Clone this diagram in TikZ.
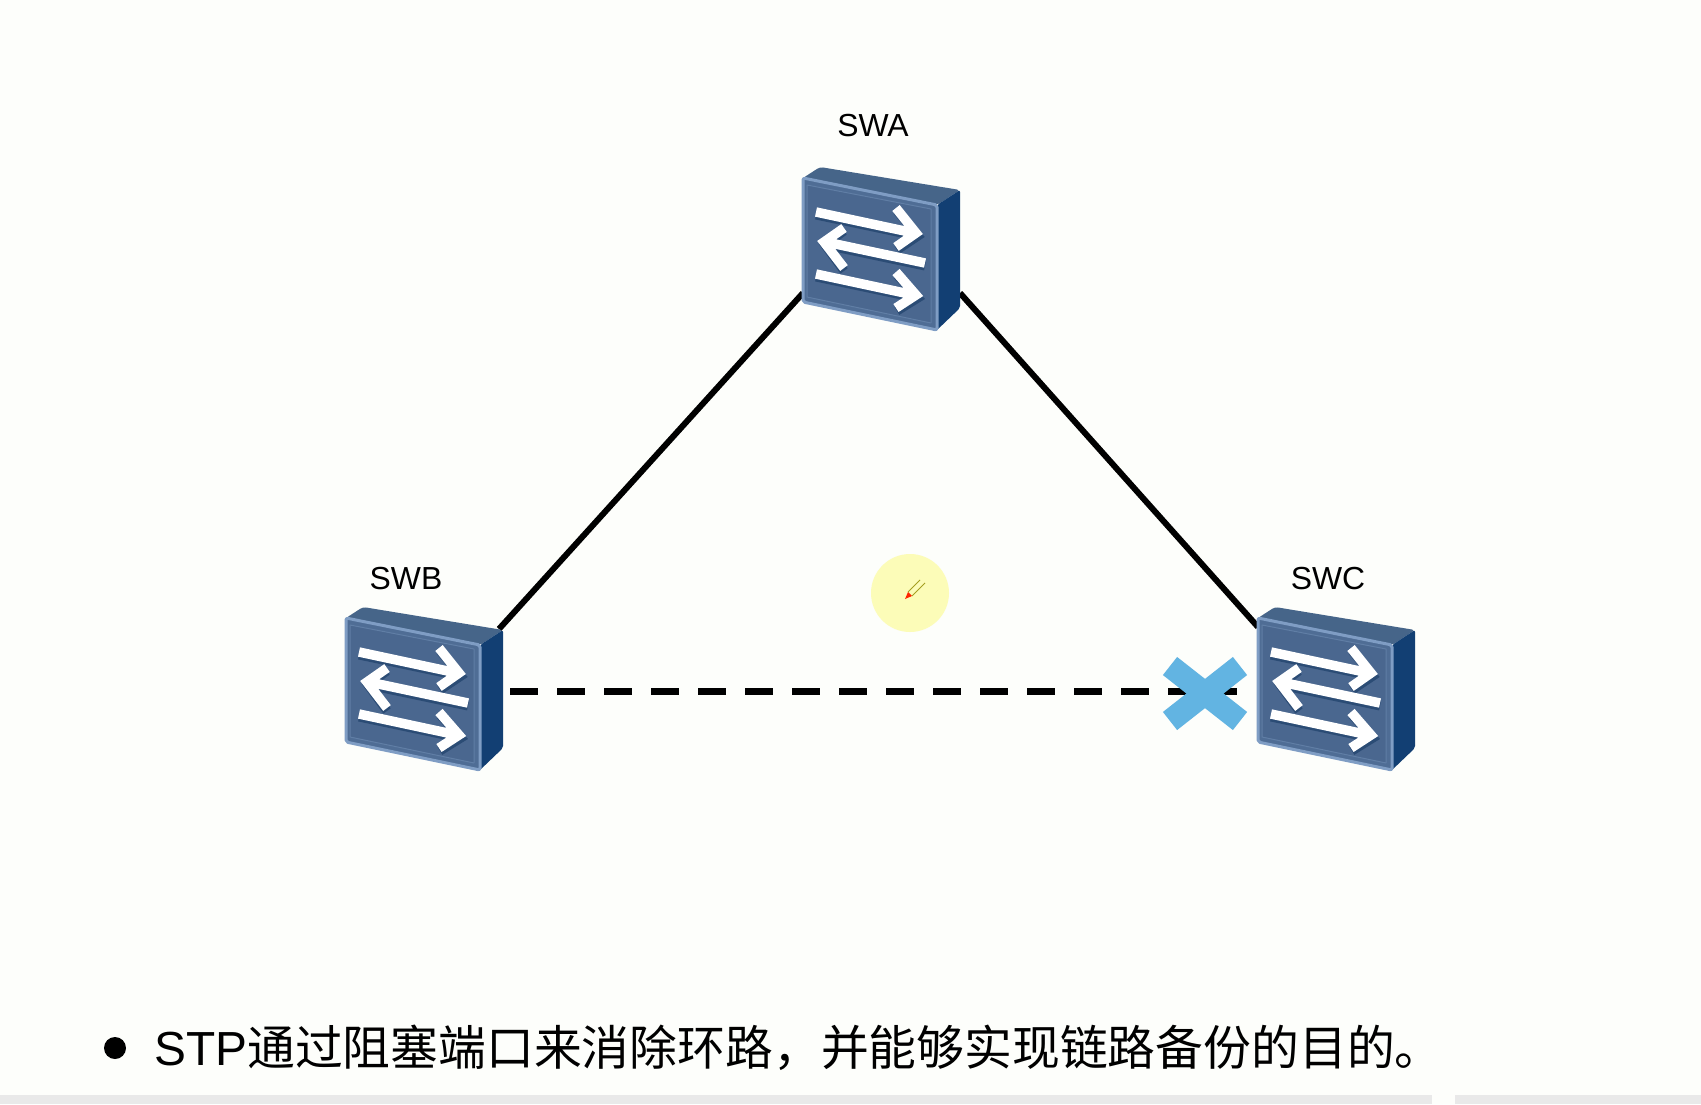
\documentclass[tikz,border=0pt]{standalone}
\usepackage{fontspec}
\setmainfont{Liberation Sans}
\newfontfamily\cjk{Noto Sans CJK SC}
\definecolor{paper}{HTML}{FDFEFB}
\definecolor{strip}{HTML}{E9E9E9}
\definecolor{swfront}{HTML}{4F6D95}
\definecolor{swpanel}{HTML}{4A678F}
\definecolor{swrim}{HTML}{7F9DC4}
\definecolor{swtop}{HTML}{466589}
\definecolor{swside}{HTML}{123F73}
\definecolor{crossblue}{HTML}{62B4E2}
\definecolor{spot}{HTML}{FCFCB8}
\tikzset{
  swlabel/.style={font=\fontsize{32}{38}\selectfont,text=black,inner sep=0pt},
  swarrow/.style={draw=white,line width=9.5bp,line join=miter,miter limit=10},
  swshadow/.style={draw=swside!80!black,line width=9bp,line join=miter,miter limit=10,opacity=.5},
  link/.style={draw=black,line width=6bp},
  blocked/.style={draw=black,line width=7bp,dash pattern=on 28bp off 19bp},
  crossbar/.style={draw=crossblue,line width=23bp},
  switch/.pic={
    \fill[swtop,rounded corners=3bp] (0,0) -- (17,-11) -- (157,12) -- (134,27) -- cycle;
    \fill[swside,rounded corners=2bp] (134,27) -- (157,12) -- (157,130) -- (134,152) -- cycle;
    \filldraw[fill=swfront,draw=swrim,line width=3bp,rounded corners=2bp] (0,0) -- (134,27) -- (134,152) -- (0,124) -- cycle;
    \draw[swrim!35!swfront,line width=1bp,fill=swpanel] (4,7) -- (128,31) -- (128,145) -- (4,119) -- cycle;
    \draw[swshadow] (13,37) -- (113,58) (94,33) -- (115,58) -- (94,72);
    \draw[swshadow] (122,88) -- (22,67) (41,53) -- (22,67) -- (41,93);
    \draw[swshadow] (13,99) -- (113,120) (94,97) -- (115,120) -- (94,133);
    \draw[swarrow] (13,34) -- (111,55) (93,30) -- (113,55) -- (93,69);
    \draw[swarrow] (122,85) -- (23,64) (41,50) -- (21,64) -- (41,90);
    \draw[swarrow] (13,96) -- (111,117) (93,94) -- (113,117) -- (93,130);
  }
}
\begin{document}
\begin{tikzpicture}[x=1bp,y=-1bp,>=latex,line join=bevel]
  \useasboundingbox (0,0) rectangle (1701,1104);
  \fill[paper] (0,0) rectangle (1701,1104);
  \fill[strip] (0,1095) rectangle (1432,1104);
  \fill[strip] (1455,1095) rectangle (1701,1104);
%%
  % Node: pointer spot
  \node[circle,fill=spot,minimum size=78bp,inner sep=0pt] (spot) at (910,593) {};
  \fill[red!70!orange] (905,599) -- (908,592) -- (912,596) -- cycle;
  \draw[olive!80,line width=.8bp] (908,592) -- (920,580) (912,596) -- (925,583);
  % Edge: swa -> swb, swa -> swc
  \coordinate (swa-sw) at (803,293);
  \coordinate (swa-se) at (960,293);
  \coordinate (swb-ne) at (499,629);
  \coordinate (swc-nw) at (1258,627);
  \draw[link] (swa-sw) -- (swb-ne);
  \draw[link] (swa-se) -- (swc-nw);
  % Edge: swb -> swc
  \coordinate (swb-e) at (510,691);
  \coordinate (swc-w) at (1237,691);
  \draw[blocked] (swb-e) -- (swc-w);
  % Node: cross
  \coordinate (crossnw) at (1170,666);
  \coordinate (crossse) at (1240,721);
  \coordinate (crossne) at (1240,666);
  \coordinate (crosssw) at (1170,721);
  \draw[crossbar] (crossnw) -- (crossse);
  \draw[crossbar] (crossne) -- (crosssw);
  % Node: swa
  \pic at (803,178) {switch};
  \node[swlabel] (swalabel) at (873,126) {SWA};
  % Node: swb
  \pic at (346,618) {switch};
  \node[swlabel] (swblabel) at (406,579) {SWB};
  % Node: swc
  \pic at (1258,618) {switch};
  \node[swlabel] (swclabel) at (1328,579) {SWC};
  % Node: caption
  \node[circle,fill=black,minimum size=22bp,inner sep=0pt] (bullet) at (115,1048) {};
  \node[anchor=west,inner sep=0pt,font=\fontsize{48}{56}\selectfont] (caption) at (154,1048) {STP{\cjk 通过阻塞端口来消除环路，并能够实现链路备份的目的。}};
%
\end{tikzpicture}
\end{document}
